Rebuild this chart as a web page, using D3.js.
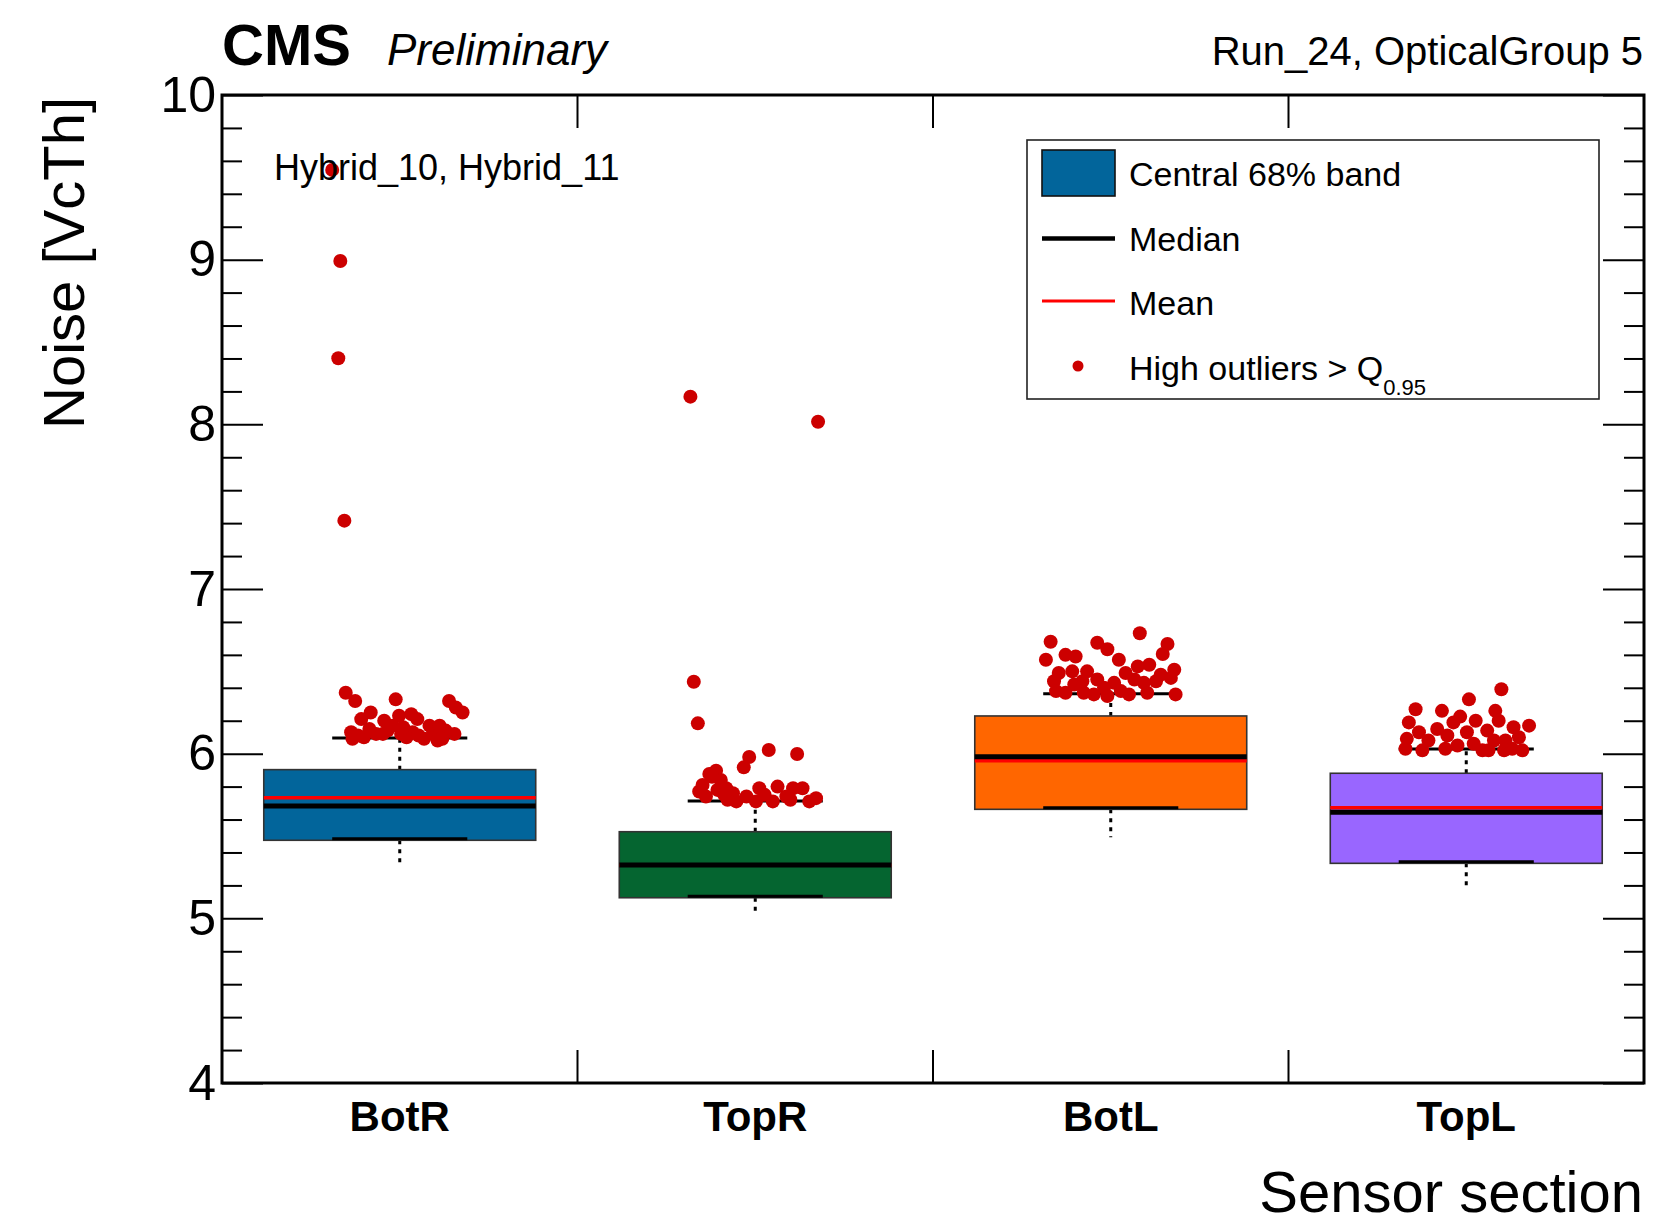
<!DOCTYPE html>
<html>
<head>
<meta charset="utf-8">
<script src="https://cdn.jsdelivr.net/npm/d3@7"></script>
<style>
  body { margin: 0; background: #fff; }
  svg { display: block; }
  text { font-family: "Liberation Sans", Arial, Helvetica, sans-serif; fill: #000; }
</style>
</head>
<body>
<svg id="chart" width="1655" height="1228"></svg>
<script>
// ---- data -------------------------------------------------------------
const categories = ["BotR", "TopR", "BotL", "TopL"];
const bandLow   = [5.474, 5.125, 5.662, 5.334];   // Q0.16
const bandHigh  = [5.903, 5.526, 6.229, 5.881];   // Q0.84
const medians   = [5.682, 5.324, 5.982, 5.644];
const means     = [5.733, 5.322, 5.957, 5.672];
const upperQ95  = [6.095, 5.713, 6.364, 6.028];   // upper whisker cap
const lowerEnd  = [5.330, 5.031, 5.492, 5.182];   // lower whisker end
const yTicks    = [4, 5, 6, 7, 8, 9, 10];

// high outliers per section: [noise, horizontal jitter in cap half-widths]
const outliersBotR = [
  [9.545, -1.00], [8.992, -0.88], [8.401, -0.91], [7.415, -0.82],
  [6.37, -0.80], [6.32, -0.66], [6.33, -0.06], [6.32, 0.73], [6.28, 0.83], [6.25, 0.93],
  [6.25, -0.43], [6.21, -0.57], [6.20, -0.23], [6.23, -0.01], [6.24, 0.17], [6.21, 0.26],
  [6.13, -0.72], [6.09, -0.70], [6.10, -0.53], [6.12, -0.35], [6.14, -0.18], [6.12, 0.02],
  [6.13, 0.19], [6.09, 0.36], [6.12, 0.49], [6.08, 0.56], [6.14, 0.68], [6.12, 0.81],
  [6.17, 0.44], [6.17, 0.59], [6.17, -0.11], [6.11, -0.62], [6.15, -0.45], [6.10, 0.10],
  [6.11, 0.28], [6.16, 0.05], [6.09, 0.63], [6.12, -0.25]
];
const outliersTopR = [
  [8.168, -0.96], [8.016, 0.93], [6.437, -0.91], [6.184, -0.85],
  [6.022, 0.20], [5.998, 0.62], [5.98, -0.09], [5.917, -0.17], [5.897, -0.58], [5.877, -0.68],
  [5.84, -0.51], [5.81, -0.78], [5.77, -0.83], [5.74, -0.73], [5.78, -0.56], [5.79, -0.43],
  [5.76, -0.33], [5.71, -0.28], [5.74, -0.13], [5.71, 0.01], [5.79, 0.06], [5.71, 0.26],
  [5.80, 0.33], [5.74, 0.46], [5.79, 0.56], [5.79, 0.70], [5.71, 0.80], [5.73, 0.90],
  [5.72, -0.41], [5.86, -0.64], [5.75, -0.46], [5.75, 0.14], [5.72, 0.52]
];
const outliersBotL = [
  [6.731, 0.43], [6.68, -0.89], [6.674, -0.20], [6.666, 0.84], [6.634, -0.05], [6.605, 0.77],
  [6.60, -0.67], [6.59, -0.52], [6.57, -0.96], [6.57, 0.12], [6.54, 0.57], [6.53, 0.40],
  [6.51, 0.94], [6.49, -0.77], [6.50, -0.57], [6.50, -0.35], [6.49, 0.22], [6.48, 0.74],
  [6.46, 0.89], [6.44, -0.84], [6.42, -0.54], [6.45, -0.20], [6.43, 0.05], [6.45, 0.35],
  [6.43, 0.49], [6.44, 0.67], [6.38, -0.81], [6.37, -0.67], [6.37, -0.40], [6.36, -0.25],
  [6.35, -0.05], [6.38, 0.15], [6.36, 0.27], [6.37, 0.54], [6.36, 0.96], [6.40, -0.10],
  [6.44, -0.42]
];
const outliersTopL = [
  [6.391, 0.52], [6.33, 0.04], [6.27, -0.75], [6.26, -0.36], [6.26, 0.43], [6.225, -0.09],
  [6.19, -0.85], [6.19, -0.19], [6.20, 0.14], [6.20, 0.48], [6.17, 0.93], [6.16, 0.70],
  [6.15, -0.43], [6.13, -0.70], [6.11, -0.28], [6.13, 0.01], [6.14, 0.31], [6.10, 0.78],
  [6.08, 0.58], [6.09, -0.88], [6.08, -0.56], [6.03, -0.90], [6.02, -0.65], [6.03, -0.31],
  [6.05, -0.13], [6.02, 0.24], [6.02, 0.33], [6.02, 0.56], [6.03, 0.68], [6.02, 0.83],
  [6.06, 0.11], [6.08, 0.41]
];
const outliers = [outliersBotR, outliersTopR, outliersBotL, outliersTopL];

// ---- style ------------------------------------------------------------
const fills = ["#02659b", "#056530", "#ff6600", "#9966ff"];
const outlierColor = "#cc0000";
const meanColor = "#ff0000";

// ---- scales -----------------------------------------------------------
const frame = { left: 222, right: 1644, top: 95, bottom: 1083 };
const x = d3.scaleBand().domain(categories).range([frame.left, frame.right]).padding(0);
const y = d3.scaleLinear().domain([4, 10]).range([frame.bottom, frame.top]);
const boxW = x.bandwidth() * 0.765;
const capHalf = x.bandwidth() * 0.19;
const cx = c => x(c) + x.bandwidth() / 2;

const svg = d3.select("#chart");

// ---- boxes --------------------------------------------------------------
const boxes = svg.append("g").attr("class", "boxes");
categories.forEach((c, i) => {
  const g = boxes.append("g");
  const xc = cx(c);
  // lower whisker (dotted) from band bottom to minimum
  g.append("line")
    .attr("x1", xc).attr("x2", xc)
    .attr("y1", y(bandLow[i])).attr("y2", y(lowerEnd[i]))
    .attr("stroke", "#000").attr("stroke-width", 3).attr("stroke-dasharray", "4,5");
  // upper whisker (dotted) from band top to Q0.95
  g.append("line")
    .attr("x1", xc).attr("x2", xc)
    .attr("y1", y(bandHigh[i])).attr("y2", y(upperQ95[i]))
    .attr("stroke", "#000").attr("stroke-width", 3).attr("stroke-dasharray", "4,5");
  // central 68% band
  g.append("rect")
    .attr("x", xc - boxW / 2).attr("width", boxW)
    .attr("y", y(bandHigh[i])).attr("height", y(bandLow[i]) - y(bandHigh[i]))
    .attr("fill", fills[i]).attr("stroke", "#333").attr("stroke-width", 1.6);
  // lower cap sits on the band bottom edge
  g.append("line")
    .attr("x1", xc - capHalf).attr("x2", xc + capHalf)
    .attr("y1", y(bandLow[i]) - 1.5).attr("y2", y(bandLow[i]) - 1.5)
    .attr("stroke", "#000").attr("stroke-width", 3);
  // upper cap at Q0.95
  g.append("line")
    .attr("x1", xc - capHalf).attr("x2", xc + capHalf)
    .attr("y1", y(upperQ95[i])).attr("y2", y(upperQ95[i]))
    .attr("stroke", "#000").attr("stroke-width", 3);
  // mean
  g.append("line")
    .attr("x1", xc - boxW / 2).attr("x2", xc + boxW / 2)
    .attr("y1", y(means[i])).attr("y2", y(means[i]))
    .attr("stroke", meanColor).attr("stroke-width", 3.5);
  // median
  g.append("line")
    .attr("x1", xc - boxW / 2).attr("x2", xc + boxW / 2)
    .attr("y1", y(medians[i])).attr("y2", y(medians[i]))
    .attr("stroke", "#000").attr("stroke-width", 5);
  // high outliers
  g.append("g").selectAll("circle")
    .data(outliers[i])
    .join("circle")
    .attr("cx", d => xc + d[1] * capHalf)
    .attr("cy", d => y(d[0]))
    .attr("r", 7)
    .attr("fill", outlierColor);
});

// ---- axes -----------------------------------------------------------------
const minorTicks = d3.range(4, 10.001, 0.2).filter(v => Math.abs(v - Math.round(v)) > 1e-6);

const styleAxis = g => {
  g.select(".domain").remove();
  g.selectAll(".tick line").attr("stroke", "#000").attr("stroke-width", 2);
};

svg.append("g")
  .attr("transform", `translate(${frame.left},0)`)
  .call(d3.axisLeft(y).tickValues(yTicks).tickSize(-41).tickPadding(6).tickFormat(d3.format("d")))
  .call(styleAxis)
  .call(g => g.selectAll("text").attr("font-size", 50).attr("font-family", "Liberation Sans, Arial, sans-serif"));
svg.append("g")
  .attr("transform", `translate(${frame.left},0)`)
  .call(d3.axisLeft(y).tickValues(minorTicks).tickSize(-20).tickFormat(""))
  .call(styleAxis);
svg.append("g")
  .attr("transform", `translate(${frame.right},0)`)
  .call(d3.axisRight(y).tickValues(yTicks).tickSize(-41).tickFormat(""))
  .call(styleAxis);
svg.append("g")
  .attr("transform", `translate(${frame.right},0)`)
  .call(d3.axisRight(y).tickValues(minorTicks).tickSize(-20).tickFormat(""))
  .call(styleAxis);

// category labels
svg.append("g")
  .attr("transform", `translate(0,${frame.bottom})`)
  .call(d3.axisBottom(x).tickSize(0))
  .call(g => g.select(".domain").remove())
  .call(g => g.selectAll("text")
    .attr("y", 48).attr("dy", 0)
    .attr("font-size", 42).attr("font-weight", "bold")
    .attr("font-family", "Liberation Sans, Arial, sans-serif"));

// section boundary ticks on bottom and top edges
const bounds = categories.slice(1);
svg.append("g").selectAll("line.bt")
  .data(bounds).join("line")
  .attr("x1", d => x(d)).attr("x2", d => x(d))
  .attr("y1", frame.bottom).attr("y2", frame.bottom - 33)
  .attr("stroke", "#000").attr("stroke-width", 2);
svg.append("g").selectAll("line.tt")
  .data(bounds).join("line")
  .attr("x1", d => x(d)).attr("x2", d => x(d))
  .attr("y1", frame.top).attr("y2", frame.top + 33)
  .attr("stroke", "#000").attr("stroke-width", 2);

// frame
svg.append("rect")
  .attr("x", frame.left).attr("y", frame.top)
  .attr("width", frame.right - frame.left).attr("height", frame.bottom - frame.top)
  .attr("fill", "none").attr("stroke", "#000").attr("stroke-width", 3);

// ---- titles ---------------------------------------------------------------
svg.append("text").attr("x", frame.left).attr("y", 65)
  .attr("font-size", 58).attr("font-weight", "bold").text("CMS");
svg.append("text").attr("x", 387).attr("y", 65)
  .attr("font-size", 44).attr("font-style", "italic").text("Preliminary");
svg.append("text").attr("x", 1643).attr("y", 65)
  .attr("font-size", 40).attr("text-anchor", "end").text("Run_24, OpticalGroup 5");

svg.append("text")
  .attr("transform", "translate(84,97) rotate(-90)")
  .attr("text-anchor", "end").attr("font-size", 58).text("Noise [VcTh]");
svg.append("text").attr("x", 1643).attr("y", 1212)
  .attr("text-anchor", "end").attr("font-size", 58).text("Sensor section");

svg.append("text").attr("x", 274).attr("y", 180)
  .attr("font-size", 36).text("Hybrid_10, Hybrid_11");

// ---- legend -----------------------------------------------------------------
const lg = svg.append("g");
lg.append("rect").attr("x", 1027).attr("y", 140).attr("width", 572).attr("height", 259)
  .attr("fill", "#fff").attr("stroke", "#222").attr("stroke-width", 1.6);
lg.append("rect").attr("x", 1042).attr("y", 150).attr("width", 73).attr("height", 46)
  .attr("fill", fills[0]).attr("stroke", "#111").attr("stroke-width", 1.6);
lg.append("line").attr("x1", 1042).attr("x2", 1115).attr("y1", 238.5).attr("y2", 238.5)
  .attr("stroke", "#000").attr("stroke-width", 4.5);
lg.append("line").attr("x1", 1042).attr("x2", 1115).attr("y1", 301).attr("y2", 301)
  .attr("stroke", meanColor).attr("stroke-width", 3);
lg.append("circle").attr("cx", 1078).attr("cy", 366).attr("r", 5.5).attr("fill", outlierColor);

const legendLabels = ["Central 68% band", "Median", "Mean"];
const legendBase = [186, 251, 314.5];
legendLabels.forEach((t, i) => {
  lg.append("text").attr("x", 1129).attr("y", legendBase[i]).attr("font-size", 34).text(t);
});
const hl = lg.append("text").attr("x", 1129).attr("y", 380).attr("font-size", 34);
hl.append("tspan").text("High outliers > Q");
hl.append("tspan").attr("dy", 15).attr("font-size", 22).text("0.95");
</script>
</body>
</html>
